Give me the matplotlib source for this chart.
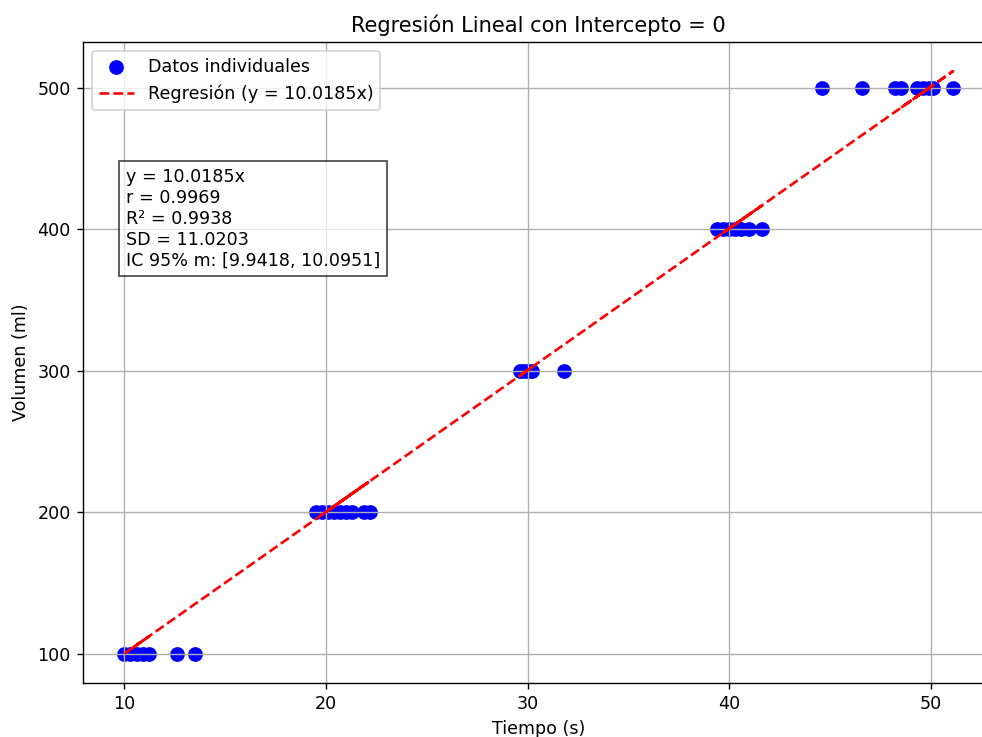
import numpy as np
import matplotlib.pyplot as plt

tiempo = [10.0, 11.2, 10.3, 10.9, 10.6, 12.6, 13.5,
          19.5, 22.2, 19.8, 21.9, 20.1, 21.3, 20.4, 21.0, 20.7,
          30.0, 29.6, 30.2, 29.8, 31.8,
          39.4, 41.6, 39.7, 41.0, 40.0, 40.6, 40.3,
          44.6, 46.6, 48.2, 51.1, 48.5, 49.3, 50.1, 49.6, 49.9]
volumen = [100]*7 + [200]*9 + [300]*5 + [400]*7 + [500]*9

pendiente = 10.0185
texto = ("y = 10.0185x\n"
         "r = 0.9969\n"
         "R\u00b2 = 0.9938\n"
         "SD = 11.0203\n"
         "IC 95% m: [9.9418, 10.0951]")

x = np.array(tiempo)
y = np.array(volumen)

dpi = 126
fig = plt.figure(figsize=(982/dpi, 737/dpi), dpi=dpi)
ax = fig.add_axes([83/982, 54/737, (994.5-83)/982, 641/737])

ax.scatter(x, y, color='blue', s=55, label='Datos individuales')
ax.plot(x, pendiente*x, 'r--', label='Regresión (y = %.4fx)' % pendiente)

ax.text(0.047, 0.803, texto, transform=ax.transAxes, va='top', ha='left',
        bbox=dict(facecolor='white', edgecolor='black', alpha=0.7))

ax.set_title("Regresión Lineal con Intercepto = 0")
ax.set_xlabel("Tiempo (s)")
ax.set_ylabel("Volumen (ml)")
ax.legend(loc='upper left')
ax.grid(True)

fig.savefig("out.png", dpi=dpi)
